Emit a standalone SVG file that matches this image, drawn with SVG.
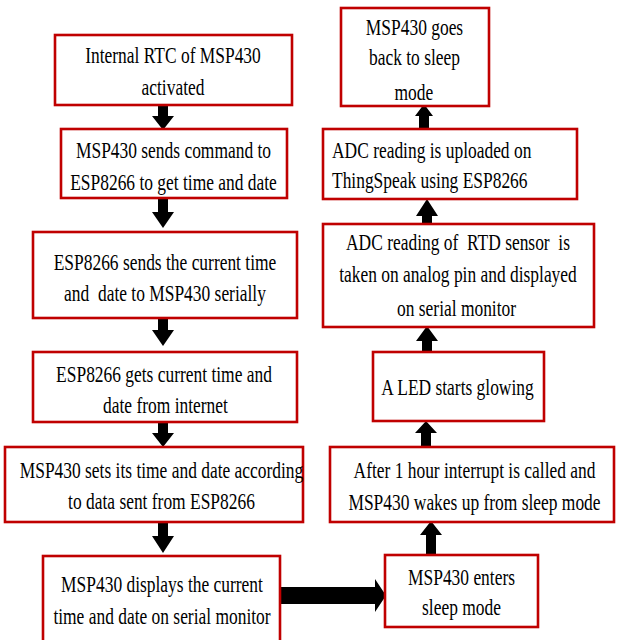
<svg xmlns="http://www.w3.org/2000/svg" width="619" height="640" viewBox="0 0 619 640">
<style>
.box{fill:#fff;stroke:#c00000;stroke-width:2.6}
.t{font-family:"Liberation Serif","Times New Roman",serif;font-size:24px;fill:#000;text-anchor:middle;white-space:pre}
.l{text-anchor:start}
.arr{fill:#000}
</style>
<rect width="619" height="640" fill="#fff"/>
<g id="connectors">
<polygon class="arr" points="158,105 168,105 168,116 174,116 163,130 152,116 158,116"/>
<polygon class="arr" points="158,198 168,198 168,212 174,212 163,228 152,212 158,212"/>
<polygon class="arr" points="158,318 168,318 168,330 174,330 163,346 152,330 158,330"/>
<polygon class="arr" points="158,422 168,422 168,433 174,433 163,447 152,433 158,433"/>
<polygon class="arr" points="158,522 168,522 168,536 174,536 163,553 152,536 158,536"/>
<polygon class="arr" points="280,587 375,587 375,579 386,595.5 375,612 375,604 280,604"/>
<polygon class="arr" points="426,555 436,555 436,535 442,535 431,521 420,535 426,535"/>
<polygon class="arr" points="421,447 431,447 431,433 437,433 426,421 415,433 421,433"/>
<polygon class="arr" points="422,352 432,352 432,341 438,341 427,326 416,341 422,341"/>
<polygon class="arr" points="422,224 432,224 432,216 438,216 427,199 416,216 422,216"/>
<polygon class="arr" points="419,129 429,129 429,116 433,116 424,104 415,116 419,116"/>
</g>
<g id="n1">
<rect class="box" x="55" y="35" width="237" height="70"/>
<g transform="translate(173,0) scale(0.726,1)">
<text class="t" x="0" y="63">Internal RTC of MSP430</text>
<text class="t" x="0" y="95">activated</text>
</g>
</g>
<g id="n2">
<rect class="box" x="61" y="129" width="226" height="69"/>
<g transform="translate(173.5,0) scale(0.726,1)">
<text class="t" x="0" y="158">MSP430 sends command to</text>
<text class="t" x="0" y="190">ESP8266 to get time and date</text>
</g>
</g>
<g id="n3">
<rect class="box" x="33" y="232" width="264" height="86"/>
<g transform="translate(165,0) scale(0.726,1)">
<text class="t" x="0" y="270">ESP8266 sends the current time</text>
<text class="t" x="0" y="301">and  date to MSP430 serially</text>
</g>
</g>
<g id="n4">
<rect class="box" x="33" y="352" width="264" height="70"/>
<g transform="translate(164,0) scale(0.726,1)">
<text class="t" x="0" y="382">ESP8266 gets current time and</text>
<text class="t" x="2" y="413">date from internet</text>
</g>
</g>
<g id="n5">
<rect class="box" x="5" y="447" width="298" height="75"/>
<g transform="translate(161.5,0) scale(0.726,1)">
<text class="t" x="0" y="478">MSP430 sets its time and date according</text>
<text class="t" x="0" y="509">to data sent from ESP8266</text>
</g>
</g>
<g id="n6">
<rect class="box" x="43" y="556" width="237" height="90"/>
<g transform="translate(162,0) scale(0.726,1)">
<text class="t" x="0" y="592">MSP430 displays the current</text>
<text class="t" x="0" y="624">time and date on serial monitor</text>
</g>
</g>
<g id="n7">
<rect class="box" x="385" y="555" width="153" height="72"/>
<g transform="translate(461.5,0) scale(0.726,1)">
<text class="t" x="0" y="585">MSP430 enters</text>
<text class="t" x="0" y="615">sleep mode</text>
</g>
</g>
<g id="n8">
<rect class="box" x="330" y="447" width="284" height="75"/>
<g transform="translate(474.5,0) scale(0.726,1)">
<text class="t" x="0" y="478">After 1 hour interrupt is called and</text>
<text class="t" x="0" y="510">MSP430 wakes up from sleep mode</text>
</g>
</g>
<g id="n9">
<rect class="box" x="373" y="352" width="171" height="69"/>
<g transform="translate(457.5,0) scale(0.726,1)">
<text class="t" x="0" y="395">A LED starts glowing</text>
</g>
</g>
<g id="n10">
<rect class="box" x="323" y="224" width="271" height="103"/>
<g transform="translate(458,0) scale(0.726,1)">
<text class="t" x="0" y="250">ADC reading of  RTD sensor  is</text>
<text class="t" x="0" y="282">taken on analog pin and displayed</text>
<text class="t" x="-2" y="316">on serial monitor</text>
</g>
</g>
<g id="n11">
<rect class="box" x="323" y="129" width="254" height="70"/>
<g transform="translate(332,0) scale(0.726,1)">
<text class="t l" x="0" y="158">ADC reading is uploaded on</text>
<text class="t l" x="0" y="188">ThingSpeak using ESP8266</text>
</g>
</g>
<g id="n12">
<rect class="box" x="341" y="8" width="148" height="98"/>
<g transform="translate(414.5,0) scale(0.726,1)">
<text class="t" x="0" y="35">MSP430 goes</text>
<text class="t" x="0" y="65">back to sleep</text>
<text class="t" x="-1" y="100">mode</text>
</g>
</g>
</svg>
